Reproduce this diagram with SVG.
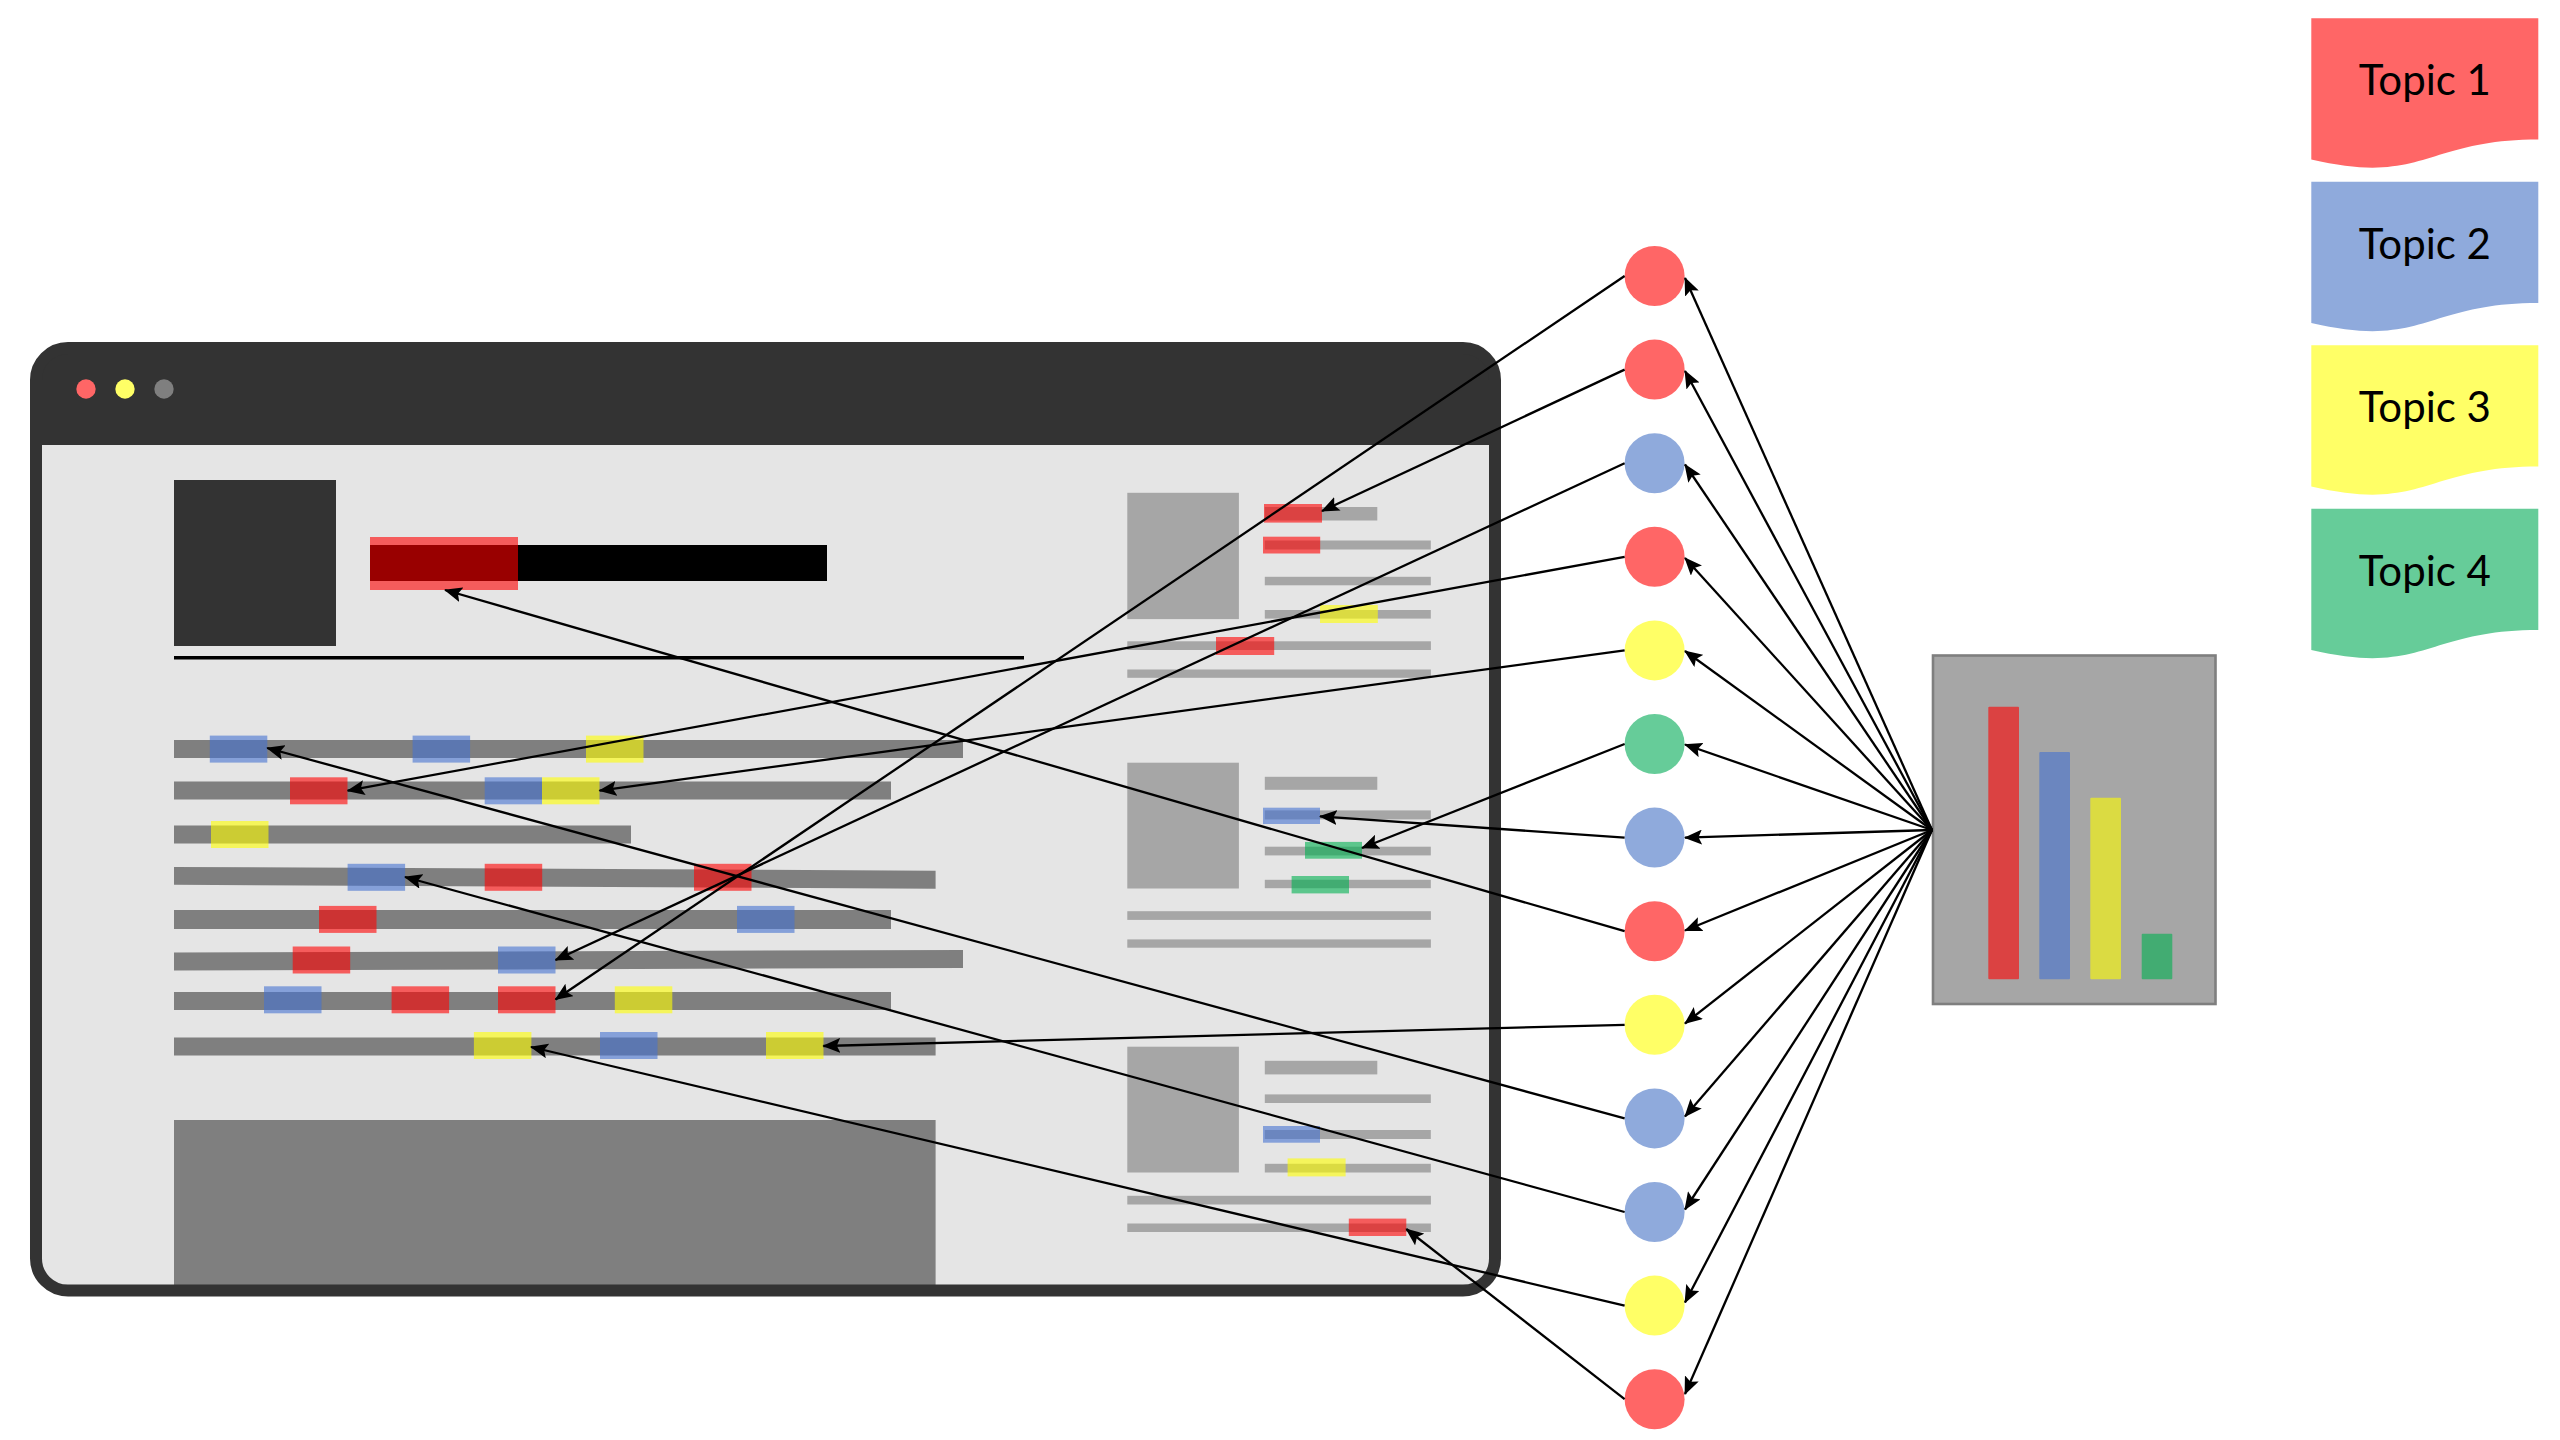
<svg xmlns="http://www.w3.org/2000/svg" width="2560" height="1440" viewBox="0 0 2560 1440">
<style>
.bar{fill:#7f7f7f}
.lbar{fill:#a6a6a6}
.hr{fill:#ff0000;fill-opacity:.6}
.hb{fill:#4472d0;fill-opacity:.6}
.hy{fill:#ffff00;fill-opacity:.6}
.hg{fill:#00b050;fill-opacity:.6}
.n-red{fill:#ff6666}
.n-blue{fill:#8faadc}
.n-yellow{fill:#ffff66}
.n-green{fill:#66cc99}
.conn line{stroke:#000;stroke-width:2.3;fill:none;marker-end:url(#arr)}
.topic text{font-family:Lato,"Open Sans","Liberation Sans",sans-serif;font-size:42px;fill:#000;text-anchor:middle}
</style>
<defs>
<marker id="arr" viewBox="0 0 18 15" markerWidth="18" markerHeight="15" refX="17" refY="7.5" orient="auto" markerUnits="userSpaceOnUse">
<path d="M0,0 L18,7.5 L0,15 L3.5,7.5 Z" fill="#000"/>
</marker>
</defs>
<rect width="2560" height="1440" fill="#fff"/>

<g id="browser">
<rect x="36" y="348" width="1459" height="942.5" rx="32" fill="#e5e5e5"/>
<path d="M36,445 V380 A32,32 0 0 1 68,348 H1463 A32,32 0 0 1 1495,380 V445 Z" fill="#333"/>
<circle cx="86" cy="389" r="9.7" fill="#ff6666"/>
<circle cx="125" cy="389" r="9.7" fill="#ffff66"/>
<circle cx="164" cy="389" r="9.7" fill="#7f7f7f"/>
<!-- header -->
<rect x="174" y="480" width="162" height="166" fill="#333"/>
<rect x="370" y="545" width="457" height="36" fill="#000"/>
<rect class="hr" x="370" y="537" width="148" height="53"/>
<rect x="174" y="656" width="850" height="3.5" fill="#000"/>
<!-- main text lines -->
<rect class="bar" x="174" y="740" width="789" height="18"/>
<rect class="bar" x="174" y="781.5" width="717" height="18"/>
<rect class="bar" x="174" y="825.5" width="457" height="18"/>
<polygon class="bar" points="174,866.9 935.6,870.7 935.6,888.7 174,884.8"/>
<rect class="bar" x="174" y="910" width="717" height="19"/>
<polygon class="bar" points="174,952.6 963,949.9 963,967.9 174,970.6"/>
<rect class="bar" x="174" y="992" width="717" height="18"/>
<rect class="bar" x="174" y="1037.5" width="761.6" height="18"/>
<rect class="bar" x="174" y="1120" width="761.6" height="170"/>
<!-- main highlights -->
<rect class="hb" x="209.8" y="735.6" width="57.5" height="27"/>
<rect class="hb" x="412.6" y="735.6" width="57.5" height="27"/>
<rect class="hy" x="586" y="735.6" width="57.5" height="27"/>
<rect class="hr" x="290" y="777.3" width="57.5" height="27"/>
<rect class="hb" x="484.7" y="777.3" width="57.3" height="27"/>
<rect class="hy" x="542" y="777.3" width="57.5" height="27"/>
<rect class="hy" x="211" y="821" width="57.5" height="27"/>
<rect class="hb" x="347.6" y="863.8" width="57.5" height="27"/>
<rect class="hr" x="484.7" y="863.8" width="57.5" height="27"/>
<rect class="hr" x="694" y="863.8" width="57.5" height="27"/>
<rect class="hr" x="319" y="905.9" width="57.5" height="27"/>
<rect class="hb" x="737" y="905.9" width="57.5" height="27"/>
<rect class="hr" x="292.7" y="946.5" width="57.5" height="27"/>
<rect class="hb" x="498" y="946.5" width="57.5" height="27"/>
<rect class="hb" x="264" y="986.3" width="57.5" height="27"/>
<rect class="hr" x="391.6" y="986.3" width="57.5" height="27"/>
<rect class="hr" x="498" y="986.3" width="57.5" height="27"/>
<rect class="hy" x="614.8" y="986.3" width="57.5" height="27"/>
<rect class="hy" x="473.9" y="1032" width="57.5" height="27"/>
<rect class="hb" x="600" y="1032" width="57.5" height="27"/>
<rect class="hy" x="766" y="1032" width="57.5" height="27"/>
<!-- sidebar section 1 -->
<rect class="lbar" x="1127.3" y="492.8" width="111.6" height="126.3"/>
<rect class="lbar" x="1264.8" y="507" width="112.5" height="13.5"/>
<rect class="lbar" x="1264.8" y="540.5" width="166" height="9"/>
<rect class="lbar" x="1264.8" y="576.8" width="166" height="8.5"/>
<rect class="lbar" x="1264.8" y="610" width="166" height="8.6"/>
<rect class="lbar" x="1127.3" y="641.3" width="303.6" height="8.7"/>
<rect class="lbar" x="1127.3" y="669.5" width="303.6" height="8.3"/>
<rect class="hr" x="1264" y="504" width="58" height="18.6"/>
<rect class="hr" x="1263" y="536.7" width="57.2" height="16.8"/>
<rect class="hy" x="1320" y="605" width="57.8" height="18"/>
<rect class="hr" x="1216" y="637" width="58.2" height="18"/>
<!-- sidebar section 2 -->
<rect class="lbar" x="1127.3" y="762.7" width="111.6" height="125.8"/>
<rect class="lbar" x="1264.8" y="776.8" width="112.5" height="13"/>
<rect class="lbar" x="1264.8" y="810.4" width="166" height="9"/>
<rect class="lbar" x="1264.8" y="846.7" width="166" height="8.7"/>
<rect class="lbar" x="1264.8" y="879.8" width="166" height="8.4"/>
<rect class="lbar" x="1127.3" y="911.2" width="303.6" height="8.7"/>
<rect class="lbar" x="1127.3" y="939.4" width="303.6" height="8.3"/>
<rect class="hb" x="1263" y="807.7" width="57" height="16.3"/>
<rect class="hg" x="1305" y="841.9" width="57" height="16.8"/>
<rect class="hg" x="1291.6" y="876" width="57.4" height="17.4"/>
<!-- sidebar section 3 -->
<rect class="lbar" x="1127.3" y="1046.7" width="111.6" height="125.8"/>
<rect class="lbar" x="1264.8" y="1060.8" width="112.5" height="13.6"/>
<rect class="lbar" x="1264.8" y="1094.4" width="166" height="8.6"/>
<rect class="lbar" x="1264.8" y="1130" width="166" height="9"/>
<rect class="lbar" x="1264.8" y="1163.8" width="166" height="8.7"/>
<rect class="lbar" x="1127.3" y="1195.8" width="303.6" height="8.7"/>
<rect class="lbar" x="1127.3" y="1223.5" width="303.6" height="8.5"/>
<rect class="hb" x="1263" y="1126" width="57" height="16.7"/>
<rect class="hy" x="1287.6" y="1158.4" width="58" height="18"/>
<rect class="hr" x="1348.8" y="1218.6" width="57.5" height="17.4"/>
<rect x="36" y="348" width="1459" height="942.5" rx="32" fill="none" stroke="#333" stroke-width="12"/>
</g>

<g id="chart">
<rect x="1933" y="655.5" width="282.5" height="348.5" fill="#a6a6a6" stroke="#7f7f7f" stroke-width="2.6"/>
<rect class="hr" x="1988.3" y="706.7" width="30.7" height="272.6" rx="1"/>
<rect class="hb" x="2039.3" y="752" width="30.7" height="227.3" rx="1"/>
<rect class="hy" x="2090.3" y="797.7" width="30.7" height="181.6" rx="1"/>
<rect class="hg" x="2141.7" y="933.7" width="30.6" height="45.6" rx="1"/>
</g>

<g id="node-0"><circle class="n-red" cx="1654.6" cy="276" r="30"/></g>
<g id="node-1"><circle class="n-red" cx="1654.6" cy="369.6" r="30"/></g>
<g id="node-2"><circle class="n-blue" cx="1654.6" cy="463.2" r="30"/></g>
<g id="node-3"><circle class="n-red" cx="1654.6" cy="556.8" r="30"/></g>
<g id="node-4"><circle class="n-yellow" cx="1654.6" cy="650.4" r="30"/></g>
<g id="node-5"><circle class="n-green" cx="1654.6" cy="744" r="30"/></g>
<g id="node-6"><circle class="n-blue" cx="1654.6" cy="837.6" r="30"/></g>
<g id="node-7"><circle class="n-red" cx="1654.6" cy="931.2" r="30"/></g>
<g id="node-8"><circle class="n-yellow" cx="1654.6" cy="1024.8" r="30"/></g>
<g id="node-9"><circle class="n-blue" cx="1654.6" cy="1118.4" r="30"/></g>
<g id="node-10"><circle class="n-blue" cx="1654.6" cy="1212" r="30"/></g>
<g id="node-11"><circle class="n-yellow" cx="1654.6" cy="1305.6" r="30"/></g>
<g id="node-12"><circle class="n-red" cx="1654.6" cy="1399.2" r="30"/></g>

<g id="topic-1" class="topic">
<path class="n-red" d="M2311.3,18.2 H2538.3 V139.6 C2424.8,139.6 2424.8,185.9 2311.3,159.6 Z"/>
<text x="2424.8" y="94.5">Topic 1</text>
</g>
<g id="topic-2" class="topic">
<path class="n-blue" d="M2311.3,181.7 H2538.3 V303.1 C2424.8,303.1 2424.8,349.4 2311.3,323.1 Z"/>
<text x="2424.8" y="258.5">Topic 2</text>
</g>
<g id="topic-3" class="topic">
<path class="n-yellow" d="M2311.3,345.2 H2538.3 V466.6 C2424.8,466.6 2424.8,512.9 2311.3,486.6 Z"/>
<text x="2424.8" y="422">Topic 3</text>
</g>
<g id="topic-4" class="topic">
<path class="n-green" d="M2311.3,508.7 H2538.3 V630.1 C2424.8,630.1 2424.8,676.4 2311.3,650.1 Z"/>
<text x="2424.8" y="585.5">Topic 4</text>
</g>

<g id="connectors" class="conn">
<line x1="1624.6" y1="276" x2="555.5" y2="999.5"/>
<line x1="1624.6" y1="369.6" x2="1322" y2="511"/>
<line x1="1624.6" y1="463.2" x2="555.5" y2="960"/>
<line x1="1624.6" y1="556.8" x2="347.6" y2="790.7"/>
<line x1="1624.6" y1="650.4" x2="599.5" y2="790.7"/>
<line x1="1624.6" y1="744" x2="1362" y2="848"/>
<line x1="1624.6" y1="837.6" x2="1320" y2="816.4"/>
<line x1="1624.6" y1="931.2" x2="445" y2="590"/>
<line x1="1624.6" y1="1024.8" x2="823.3" y2="1046"/>
<line x1="1624.6" y1="1118.4" x2="267.2" y2="748"/>
<line x1="1624.6" y1="1212" x2="405" y2="877"/>
<line x1="1624.6" y1="1305.6" x2="531" y2="1047"/>
<line x1="1624.6" y1="1399.2" x2="1406.3" y2="1229"/>
<line x1="1932" y1="830" x2="1685" y2="278"/>
<line x1="1932" y1="830" x2="1685" y2="371"/>
<line x1="1932" y1="830" x2="1685" y2="464.5"/>
<line x1="1932" y1="830" x2="1685" y2="558"/>
<line x1="1932" y1="830" x2="1685" y2="651"/>
<line x1="1932" y1="830" x2="1685" y2="744.5"/>
<line x1="1932" y1="830" x2="1685" y2="837.6"/>
<line x1="1932" y1="830" x2="1685" y2="930.5"/>
<line x1="1932" y1="830" x2="1685" y2="1023.5"/>
<line x1="1932" y1="830" x2="1685" y2="1116.5"/>
<line x1="1932" y1="830" x2="1685" y2="1209.5"/>
<line x1="1932" y1="830" x2="1685" y2="1302.5"/>
<line x1="1932" y1="830" x2="1685" y2="1394"/>
</g>
</svg>
